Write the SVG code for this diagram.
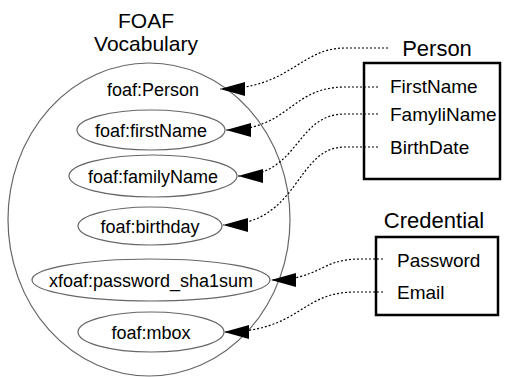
<svg xmlns="http://www.w3.org/2000/svg" width="505" height="377" viewBox="0 0 505 377">
<defs>
<style>
text{font-family:"Liberation Sans",Arial,sans-serif;fill:#000}
.ell{fill:none;stroke:#666;stroke-width:1.2}
.lbl{font-size:18px;text-anchor:middle}
.ttl{font-size:21px;text-anchor:middle}
.attr{font-size:19px}
.box{fill:none;stroke:#000;stroke-width:2.5}
.con{fill:none;stroke:#000;stroke-width:1.2;stroke-dasharray:2,2}
</style>
<marker id="ah" viewBox="0 0 25 14" refX="25" refY="7" markerWidth="25" markerHeight="14" markerUnits="userSpaceOnUse" orient="auto">
<path d="M0,0 L25,7 L0,14 Z" fill="#000"/>
</marker>
</defs>
<g id="vocabulary">
<ellipse class="ell" cx="149" cy="219.5" rx="141" ry="156.5"/>
<text class="ttl" x="146" y="28">FOAF</text>
<text class="ttl" x="146" y="51">Vocabulary</text>
</g>
<g id="foaf-person"><text class="lbl" x="153" y="95.5">foaf:Person</text></g>
<g id="foaf-firstName"><ellipse class="ell" cx="151" cy="130" rx="74" ry="20"/><text class="lbl" x="151" y="136.5">foaf:firstName</text></g>
<g id="foaf-familyName"><ellipse class="ell" cx="153" cy="176" rx="84" ry="21"/><text class="lbl" x="153" y="182.5">foaf:familyName</text></g>
<g id="foaf-birthday"><ellipse class="ell" cx="150" cy="226" rx="72" ry="19"/><text class="lbl" x="150" y="232.5">foaf:birthday</text></g>
<g id="xfoaf-password"><ellipse class="ell" cx="151" cy="280" rx="119" ry="21"/><text class="lbl" x="151" y="286.5">xfoaf:password_sha1sum</text></g>
<g id="foaf-mbox"><ellipse class="ell" cx="151" cy="332" rx="73" ry="20"/><text class="lbl" x="151" y="338.5">foaf:mbox</text></g>
<g id="person">
<text class="ttl" x="437" y="56" style="font-size:22px">Person</text>
<rect class="box" x="364" y="63" width="136" height="116"/>
<text class="attr" x="390" y="93">FirstName</text>
<text class="attr" x="390" y="121">FamyliName</text>
<text class="attr" x="390" y="154">BirthDate</text>
</g>
<g id="credential">
<text class="ttl" x="434" y="228" style="font-size:22px">Credential</text>
<rect class="box" x="376" y="237" width="122" height="78"/>
<text class="attr" x="397" y="267">Password</text>
<text class="attr" x="397" y="299">Email</text>
</g>
<g id="connectors">
<path class="con" marker-end="url(#ah)" d="M388,48 L345,48 C300,48 290,89 220,89"/>
<path class="con" marker-end="url(#ah)" d="M378,87 L345,87 C290,87 290,130 226,130"/>
<path class="con" marker-end="url(#ah)" d="M378,114 L345,114 C295,114 300,176 238,176"/>
<path class="con" marker-end="url(#ah)" d="M378,147 L345,147 C295,147 300,225 223,225"/>
<path class="con" marker-end="url(#ah)" d="M383,259 L360,259 C320,259 320,280 271,280"/>
<path class="con" marker-end="url(#ah)" d="M383,292 L355,292 C300,292 300,332 224,332"/>
</g>
</svg>
